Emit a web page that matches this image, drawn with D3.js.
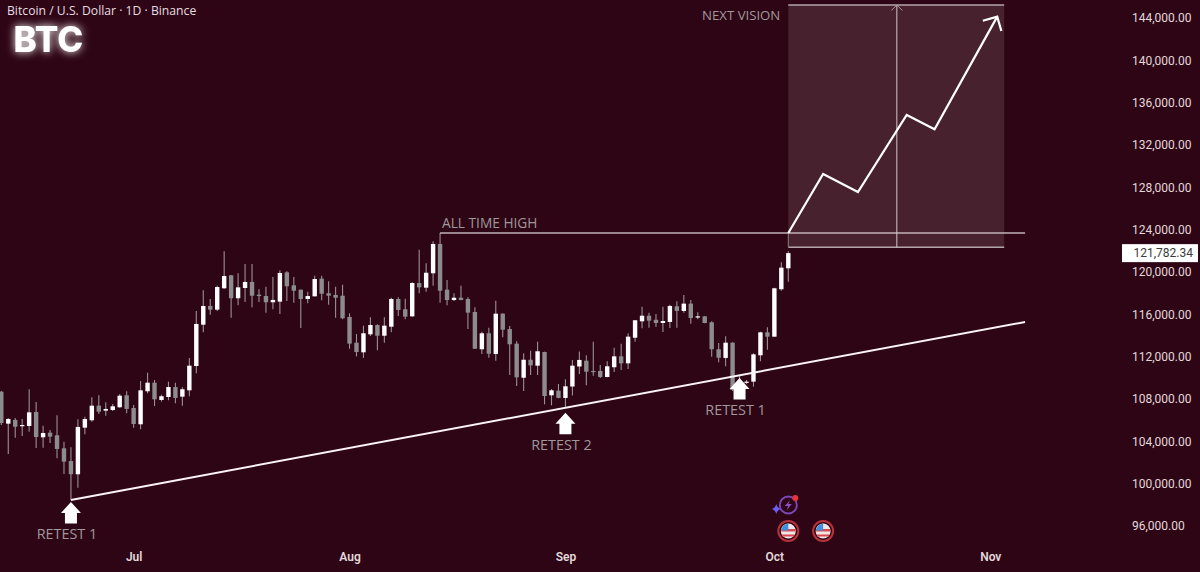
<!DOCTYPE html>
<html>
<head>
<meta charset="utf-8">
<script src="https://cdn.jsdelivr.net/npm/d3@7"></script>
<style>
  html, body { margin: 0; padding: 0; background: #2e0514; }
  svg { display: block; }
  text { font-family: "Open Sans", sans-serif; }
  .axis text { font-family: Roboto, sans-serif; font-size: 12px; fill: #e2d8dc; }
  .axis .domain { display: none; }
  .note { font-size: 13.7px; fill: #a0989b; }
</style>
</head>
<body>
<script>
let width = 1200;
let height = 572;

// daily candles, first one is 12 Jun, last one 3 Oct
let firstDay = '2025-06-12';
let opens = [108690,105670,106020,105450,105450,106770,104380,104820,104570,103340,102140,100890,105290,105990,107370,106900,106960,107220,108350,107150,
  105610,108730,109540,107910,108190,109130,108220,108820,111120,115020,116790,116440,118460,119690,117520,118490,119060,117860,117730,117140,
  117200,119970,118740,118330,117450,117700,119370,117990,117830,117760,115750,113320,112410,114110,114990,113980,114830,117450,116480,115810,
  118960,118520,119880,122650,118330,117350,117570,117450,116220,112700,114210,112250,116060,114610,113230,110010,111710,111150,112440,108350,
  108790,108100,109180,111070,111620,110650,110650,110080,111000,112030,111370,113790,115340,115870,115490,115180,115280,116760,116320,117010,
  115720,115810,115250,112700,111880,113320,108850,109580,109640,112130,114300,113890,118370,120350];
let highs = [108760,106200,106200,106110,108920,107720,105480,105070,106460,103970,103440,106080,106330,108160,108350,107690,107530,108470,108730,107430,
  109700,110490,109800,108410,109640,109540,109110,111880,116320,118270,117450,118710,121960,119720,119880,120760,120760,118370,118610,119530,
  120160,120070,119530,118330,118140,119650,119650,119120,118610,118800,116100,114140,114930,115720,115060,115720,117570,117610,117480,119030,
  122110,120820,122900,123690,119250,117990,118710,117610,116670,114360,114740,117290,116100,114900,113450,112320,112560,113420,112470,108950,
  109420,109860,111690,112490,112130,113420,111210,111560,112850,113230,114210,115440,116720,116160,116030,116720,116910,117230,117830,117360,
  116190,115840,115340,113290,113920,113360,110180,109800,112320,114360,114780,118520,120920,121950];
let lows = [105540,102800,104340,104500,104910,103370,103400,103840,102400,100910,98460,99620,104660,105860,106580,106420,106870,107180,106650,105290,
  105140,108540,107340,107750,107880,107590,107370,108260,110430,114300,115970,116320,118420,115680,116850,117170,116670,117170,116160,116480,
  116030,117260,117100,114710,117040,117700,117330,116910,115680,115530,112750,112030,111880,113950,112600,113320,114300,115840,115530,115780,
  117990,118140,118710,117100,116850,117260,117330,114610,112720,112250,111900,111620,113830,110270,109230,108760,110270,110270,107500,107400,
  108070,107220,108330,110360,109300,110200,109990,110050,110550,110740,110840,113420,114680,114740,114800,114330,114710,114740,116160,115120,
  115530,115150,112000,111470,111090,108760,108660,109420,109160,111560,112660,113890,118230,119080];
let closes = [105730,106110,105380,105540,106740,104410,104790,104440,103280,102080,100890,105360,106110,107370,106800,107060,107310,108310,107060,105640,
  108820,109540,107970,108260,109130,108100,108920,111150,115090,116790,116440,118580,119620,117520,118550,119060,117760,117730,117140,117360,
  119910,118650,118230,117450,117730,119340,117950,117760,117570,115630,113230,112440,114210,114990,113980,114930,117450,116410,115780,118960,
  118550,119930,122650,118230,117350,117570,117360,116160,112750,114210,112280,116060,114550,113170,110050,111710,111180,112510,108280,108820,
  108100,109200,111150,111690,110580,110550,110080,111090,112030,111370,113890,115440,115870,115400,115180,115370,116790,116320,117010,115650,
  115810,115180,112700,111900,113320,108850,109650,109640,112220,114300,113890,118460,120410,121782.34];

let priceTicks = [96000,100000,104000,108000,112000,116000,120000,124000,128000,132000,136000,140000,144000];
let monthTicks = ['2025-07-01','2025-08-01','2025-09-01','2025-10-01','2025-11-01'];
let lastPrice = 121782.34;

// drawings on the chart
let trendDates = ['2025-06-22','2025-11-06'];
let trendPrices = [98460,115280];
let athDates = ['2025-08-14','2025-11-06'];
let athPrice = 123690;
let boxDates = ['2025-10-03','2025-11-03'];
let boxPrices = [122340,145230];
let boxMiddle = '2025-10-18T14:00';
let pathDates = ['2025-10-03','2025-10-08','2025-10-13','2025-10-20','2025-10-24','2025-11-02'];
let pathPrices = [123690,129260,127560,134840,133480,144130];
let retestDates = ['2025-06-22','2025-09-01','2025-09-26'];
let retestPrices = [98270,106710,109990];
let retestLabels = ['RETEST 1','RETEST 2','RETEST 1'];
let flagDates = ['2025-10-03','2025-10-08'];

let parse = s => new Date(s + (s.length > 10 ? 'Z' : 'T00:00Z'));
let days = d3.range(opens.length).map(i => d3.utcDay.offset(parse(firstDay), i));

let x = d3.scaleUtc().domain([parse(firstDay), parse('2025-10-03')]).range([1.3, 788.3]);
let y = d3.scaleLinear().domain([96000, 144000]).range([526, 18]);

let svg = d3.select('body').append('svg')
  .attr('width', width)
  .attr('height', height)

let defs = svg.append('defs');
let glow = defs.append('filter').attr('id', 'glow')
  .attr('x', '-30%').attr('y', '-50%').attr('width', '160%').attr('height', '200%');
glow.append('feGaussianBlur').attr('stdDeviation', 4).attr('result', 'b');
let merge = glow.append('feMerge');
merge.append('feMergeNode').attr('in', 'b');
merge.append('feMergeNode').attr('in', 'SourceGraphic');

// projection box goes under the candles
svg.append('rect')
  .attr('x', x(parse(boxDates[0])))
  .attr('y', y(boxPrices[1]))
  .attr('width', x(parse(boxDates[1])) - x(parse(boxDates[0])))
  .attr('height', y(boxPrices[0]) - y(boxPrices[1]))
  .attr('fill', '#47212d')

boxPrices.forEach(p => {
  svg.append('line')
    .attr('x1', x(parse(boxDates[0]))).attr('x2', x(parse(boxDates[1])))
    .attr('y1', y(p)).attr('y2', y(p))
    .attr('stroke', '#b5a5ab').attr('stroke-width', 1.3)
})

svg.append('line')
  .attr('x1', x(parse(boxDates[0]))).attr('x2', x(parse(boxDates[0])))
  .attr('y1', y(athPrice)).attr('y2', y(boxPrices[0]))
  .attr('stroke', '#8d7d83')

// candles
let candles = svg.append('g').selectAll('g')
  .data(days)
  .join('g')

candles.append('line')
  .attr('x1', d => x(d)).attr('x2', d => x(d))
  .attr('y1', (d, i) => y(highs[i]))
  .attr('y2', (d, i) => y(lows[i]))
  .attr('stroke', '#9b9094')
  .attr('stroke-width', 1.1)

candles.append('rect')
  .attr('x', d => x(d) - 2.2)
  .attr('width', 4.4)
  .attr('y', (d, i) => y(Math.max(opens[i], closes[i])))
  .attr('height', (d, i) => Math.max(1.2, Math.abs(y(opens[i]) - y(closes[i]))))
  .attr('fill', (d, i) => closes[i] >= opens[i] ? '#ffffff' : '#8c8c8c')

// all time high
let ath = d3.line().x(d => x(d[0])).y(d => y(d[1]));
svg.append('path')
  .attr('d', ath(athDates.map(d => [parse(d), athPrice])))
  .attr('fill', 'none')
  .attr('stroke', '#c0b2b7')
  .attr('stroke-width', 1.5)

svg.append('text')
  .attr('class', 'note')
  .attr('x', x(parse(athDates[0])) + 2)
  .attr('y', y(athPrice) - 5)
  .text('ALL TIME HIGH')

// trend line
svg.append('path')
  .attr('d', ath(trendDates.map((d, i) => [parse(d), trendPrices[i]])))
  .attr('fill', 'none')
  .attr('stroke', '#fbf3f5')
  .attr('stroke-width', 2)

// vertical measure line in the box
let midX = x(parse(boxMiddle));
svg.append('path')
  .attr('d', 'M' + midX + ',' + y(boxPrices[0]) + 'V' + y(boxPrices[1]))
  .attr('fill', 'none')
  .attr('stroke', '#d3c6ca')
svg.append('path')
  .attr('transform', 'translate(' + midX + ',' + y(boxPrices[1]) + ')')
  .attr('d', 'M-5.5,5.5L0,0L5.5,5.5')
  .attr('fill', 'none')
  .attr('stroke', '#a89aa0')

// projected path
let pathPts = pathDates.map((d, i) => [parse(d), pathPrices[i]]);
svg.append('path')
  .attr('d', ath(pathPts))
  .attr('fill', 'none')
  .attr('stroke', '#ffffff')
  .attr('stroke-width', 2.2)

let n = pathPts.length;
let angle = Math.atan2(y(pathPts[n-1][1]) - y(pathPts[n-2][1]), x(pathPts[n-1][0]) - x(pathPts[n-2][0])) * 180 / Math.PI;
svg.append('path')
  .attr('transform', 'translate(' + x(pathPts[n-1][0]) + ',' + y(pathPts[n-1][1]) + ') rotate(' + angle + ')')
  .attr('d', 'M-10.6,-10.6L0,0L-10.6,10.6')
  .attr('fill', 'none')
  .attr('stroke', '#ffffff')
  .attr('stroke-width', 2.2)

svg.append('text')
  .attr('class', 'note')
  .attr('x', x(parse(boxDates[0])) - 8)
  .attr('y', y(144000) + 2)
  .attr('text-anchor', 'end')
  .style('font-size', '13.2px')
  .text('NEXT VISION')

// retest arrows
let retest = svg.append('g').selectAll('g')
  .data(retestDates)
  .join('g')
  .attr('transform', (d, i) => 'translate(' + x(parse(d)) + ',' + y(retestPrices[i]) + ')')

retest.append('path')
  .attr('d', 'M0,0L10,11H6V21.5H-6V11H-10Z')
  .attr('fill', '#ffffff')

retest.append('text')
  .attr('class', 'note')
  .attr('x', -4)
  .attr('y', 37)
  .attr('text-anchor', 'middle')
  .style('font-size', '14.4px')
  .text((d, i) => retestLabels[i])

// axes
let yAxis = svg.append('g')
  .attr('class', 'axis')
  .attr('transform', 'translate(1129,0)')
  .call(d3.axisRight(y).tickValues(priceTicks).tickSize(0).tickFormat(d3.format(',.2f')))

let xAxis = svg.append('g')
  .attr('class', 'axis')
  .attr('transform', 'translate(0,549)')
  .call(d3.axisBottom(x).tickValues(monthTicks.map(parse)).tickSize(0).tickFormat(d3.utcFormat('%b')))
xAxis.selectAll('text').style('font-weight', 600)

// last price tag
let tag = svg.append('g').attr('transform', 'translate(1122,' + y(lastPrice) + ')');
tag.append('rect')
  .attr('y', -9)
  .attr('width', 76)
  .attr('height', 18)
  .attr('fill', '#ffffff')
tag.append('text')
  .attr('x', 71)
  .attr('y', 4)
  .attr('text-anchor', 'end')
  .attr('fill', '#3a3a3a')
  .style('font-family', 'Roboto, sans-serif')
  .style('font-size', '12px')
  .text(d3.format(',.2f')(lastPrice))

// header
svg.append('text')
  .attr('x', 7)
  .attr('y', 15)
  .attr('fill', '#e6dde0')
  .style('font-size', '12.2px')
  .text('Bitcoin / U.S. Dollar · 1D · Binance')

svg.append('text')
  .attr('x', 13.5)
  .attr('y', 52)
  .attr('fill', '#ffffff')
  .attr('filter', 'url(#glow)')
  .style('font-family', 'Inter, sans-serif')
  .style('font-weight', 800)
  .style('font-size', '35px')
  .text('BTC')

// event icons near the bottom
let flags = svg.append('g').selectAll('g')
  .data(flagDates)
  .join('g')
  .attr('transform', d => 'translate(' + x(parse(d)) + ',531)')

flags.append('circle').attr('r', 10).attr('fill', '#2e0514').attr('stroke', '#b8323a').attr('stroke-width', 2)
flags.append('circle').attr('r', 7.5).attr('fill', '#f0e6e8')
flags.append('path').attr('d', 'M-7,-2H7V0.5H-7ZM-6,3.5H6V5.5H-6Z').attr('fill', '#d8484c')
flags.append('path').attr('d', 'M-7,-0.5A7.5,7.5 0 0 1 0,-7.4V-0.5Z').attr('fill', '#3f8fe0')

let bolt = svg.append('g').attr('transform', 'translate(' + x(parse(flagDates[0])) + ',505)');
bolt.append('circle').attr('r', 8.5).attr('fill', 'none').attr('stroke', '#7a48b8').attr('stroke-width', 1.8)
bolt.append('path').attr('d', 'M2,-5L-3.5,1H0L-2,5.5L3.5,-1H0Z').attr('fill', '#8d4fd0')
bolt.append('circle').attr('cx', 7).attr('cy', -7).attr('r', 3).attr('fill', '#e5343e')
bolt.append('path').attr('d', 'M-12,-1Q-11,3 -7.5,4Q-11,5 -12,9Q-13,5 -16.5,4Q-13,3 -12,-1Z').attr('fill', '#6f5cf0')
</script>
</body>
</html>
